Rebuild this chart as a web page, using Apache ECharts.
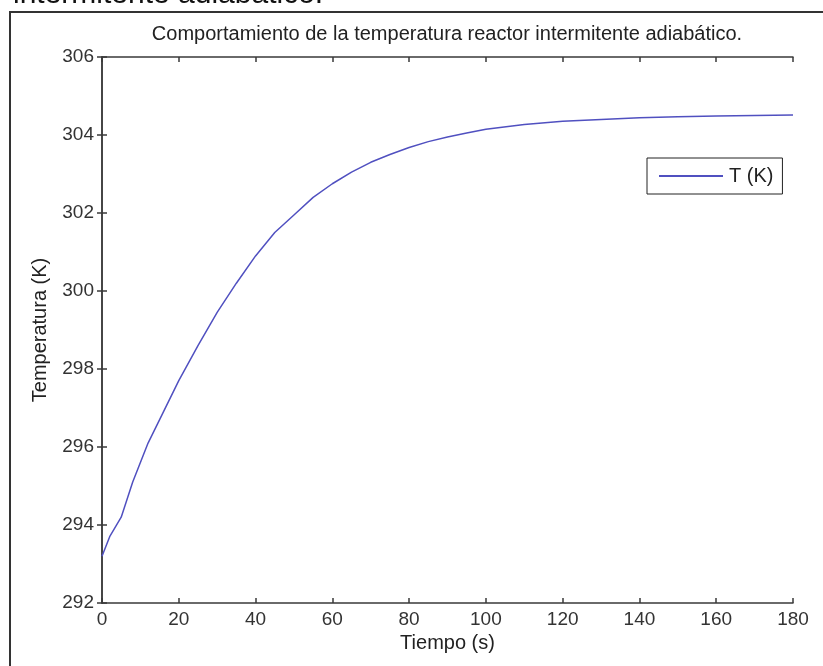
<!DOCTYPE html>
<html>
<head>
<meta charset="utf-8">
<script src="https://cdn.jsdelivr.net/npm/echarts@6/dist/echarts.min.js"></script>
<style>
html, body { margin: 0; padding: 0; background: #fff; }
#main { width: 823px; height: 666px; }
</style>
</head>
<body>
<div id="main"></div>
<script>
// tiempo (s) y temperatura (K)
var tiempo = [0, 2, 5, 8, 12, 16, 20, 25, 30, 35, 40, 45, 50, 55, 60, 65, 70, 75, 80, 85, 90, 95, 100, 110, 120, 130, 140, 150, 160, 170, 180];
var temperatura = [293.2, 293.7, 294.2, 295.1, 296.1, 296.9, 297.7, 298.6, 299.45, 300.2, 300.9, 301.5, 301.95, 302.4, 302.75, 303.05, 303.3, 303.5, 303.68, 303.83, 303.95, 304.05, 304.15, 304.27, 304.35, 304.4, 304.44, 304.47, 304.49, 304.5, 304.51];

var myChart = echarts.init(document.getElementById('main'));
var font = 'Liberation Sans, Arial, sans-serif';
var axisCol = '#3a3a3a';

var datos = tiempo.map(function (t, i) {
    return [t, temperatura[i]];
});

var option = {
    animation: false,
    backgroundColor: '#fff',
    title: {
        text: 'Comportamiento de la temperatura reactor intermitente adiabático.',
        left: 447,
        top: 24,
        padding: 0,
        textAlign: 'center',
        textStyle: { fontFamily: font, fontSize: 20, fontWeight: 'normal', color: '#222' }
    },
    grid: { left: 102, right: 30, top: 57, bottom: 63 },
    legend: {
        left: 647,
        top: 158,
        padding: [8, 9, 8, 12],
        itemWidth: 64,
        itemHeight: 2,
        itemGap: 6,
        icon: 'rect',
        borderColor: '#222',
        borderWidth: 1,
        backgroundColor: '#fff',
        textStyle: { fontFamily: font, fontSize: 20, color: '#222', padding: [0, 0, 0, 1] },
        data: ['T (K)']
    },
    xAxis: [{
        type: 'value',
        min: 0, max: 180, interval: 20,
        name: 'Tiempo (s)',
        nameLocation: 'middle',
        nameGap: 19,
        nameTextStyle: { fontFamily: font, fontSize: 20, color: '#222', verticalAlign: 'top' },
        axisLine: { lineStyle: { color: axisCol, width: 1.5 } },
        axisTick: { inside: true, length: 5, lineStyle: { color: axisCol, width: 1.5 } },
        axisLabel: { fontFamily: font, fontSize: 19, color: '#333', margin: 7 },
        splitLine: { show: false }
    }, {
        type: 'value', position: 'top',
        min: 0, max: 180, interval: 20,
        axisLine: { lineStyle: { color: axisCol, width: 1.5 } },
        axisTick: { inside: true, length: 5, lineStyle: { color: axisCol, width: 1.5 } },
        axisLabel: { show: false },
        splitLine: { show: false }
    }],
    yAxis: [{
        type: 'value',
        min: 292, max: 306, interval: 2,
        name: 'Temperatura (K)',
        nameLocation: 'middle',
        nameGap: 52,
        nameTextStyle: { fontFamily: font, fontSize: 20, color: '#222' },
        axisLine: { lineStyle: { color: axisCol, width: 1.5 } },
        axisTick: { inside: true, length: 5, lineStyle: { color: axisCol, width: 1.5 } },
        axisLabel: { fontFamily: font, fontSize: 19, color: '#333', margin: 8 },
        splitLine: { show: false }
    }, {
        type: 'value', position: 'right',
        min: 292, max: 306, interval: 2,
        axisLine: { lineStyle: { color: axisCol, width: 1.5 } },
        axisTick: { inside: true, length: 5, lineStyle: { color: axisCol, width: 1.5 } },
        axisLabel: { show: false },
        splitLine: { show: false }
    }],
    graphic: [{
        type: 'rect',
        shape: { x: 10, y: 12, width: 830, height: 700 },
        style: { fill: null, stroke: '#333', lineWidth: 2 },
        silent: true
    }, {
        type: 'text',
        left: 13,
        top: -20,
        style: { text: 'intermitente adiabático.', font: '30px ' + font, fill: '#111' },
        silent: true
    }],
    series: [{
        name: 'T (K)',
        type: 'line',
        data: datos,
        symbol: 'none',
        smooth: false,
        lineStyle: { color: '#5050c0', width: 1.5 },
        itemStyle: { color: '#5050c0' }
    }]
};

myChart.setOption(option);
window.onresize = myChart.resize;
</script>
</body>
</html>
